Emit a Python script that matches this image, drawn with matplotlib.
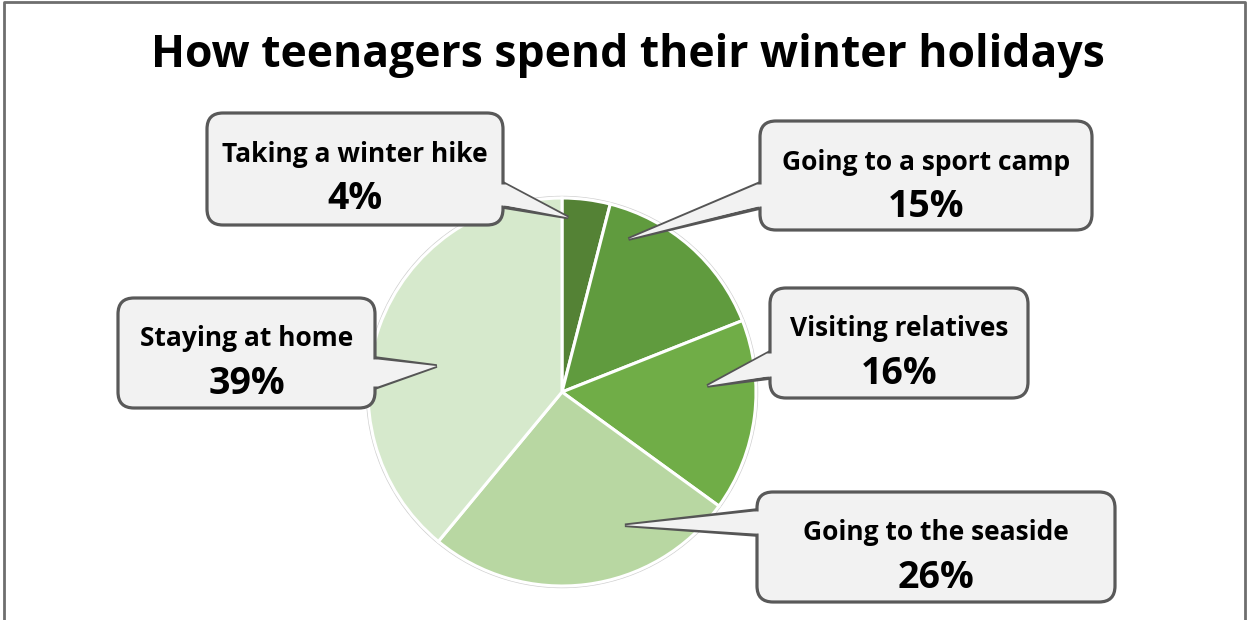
import numpy as np
import matplotlib.pyplot as plt
from matplotlib.patches import FancyBboxPatch, Polygon

plt.rcParams['font.family'] = ['Open Sans', 'DejaVu Sans']

# données
labels = ["Taking a winter hike", "Going to a sport camp", "Visiting relatives",
          "Going to the seaside", "Staying at home"]
values = [4, 15, 16, 26, 39]
colors = ["#548235", "#609b3e", "#70ad47", "#b8d7a2", "#d6e9cc"]

W, H = 1250, 620

# callouts: box (x0, y0, x1, y1) in pixels from top, tip (angle from top clockwise, radius fraction),
# pointer base on box side (side, ya, yb)
boxes = [(207, 113, 503, 225), (760, 121, 1092, 230), (770, 288, 1028, 398),
         (757, 492, 1115, 602), (118, 298, 375, 408)]
tips = [(2.0, 0.90), (23.5, 0.86), (87.6, 0.75), (154.7, 0.76), (281.7, 0.66)]
bases = [("r", 183, 207), ("l", 183, 208), ("l", 352, 378), ("l", 510, 535), ("r", 358, 388)]

cx, cy, R = 562, 392, 194

fig = plt.figure(figsize=(W / 100, H / 100), dpi=100)
ax = fig.add_axes([0, 0, 1, 1])

def Y(y):
    return H - y

wedges, _ = ax.pie(values, colors=colors, startangle=90, counterclock=False,
                   center=(cx, Y(cy)), radius=R, frame=True,
                   wedgeprops=dict(edgecolor='white', linewidth=2.2))
ax.add_patch(plt.Circle((cx, Y(cy)), R + 1.5, fill=False, edgecolor="#d0d0d0", lw=1, zorder=0.5))
ax.set_xlim(0, W)
ax.set_ylim(0, H)
ax.set_aspect('equal')
ax.axis('off')

# cadre
ax.plot([4, 4, 1245, 1245], [0, Y(2), Y(2), 0], color="#6e6e6e", lw=2, zorder=1)

ax.text(628, Y(55), "How teenagers spend their winter holidays", ha='center', va='center',
        fontsize=32, fontweight='bold', color='black')

for lab, v, (x0, y0, x1, y1), (ang, fr), (side, ya, yb) in zip(labels, values, boxes, tips, bases):
    a = np.radians(ang)
    tx = cx + fr * R * np.sin(a)
    ty = cy - fr * R * np.cos(a)
    bx = x1 if side == "r" else x0
    box = FancyBboxPatch((x0, Y(y1)), x1 - x0, y1 - y0,
                         boxstyle="round,pad=0,rounding_size=16",
                         facecolor="#f2f2f2", edgecolor="#595959", lw=2.3, zorder=5)
    ax.add_patch(box)
    ax.add_patch(Polygon([(bx, Y(ya)), (tx, Y(ty)), (bx, Y(yb))], closed=False,
                         facecolor="#f2f2f2", edgecolor="#555555", lw=2.6, zorder=5,
                         joinstyle='miter'))
    # cache le bord de la boîte sous la pointe
    ins = 3 if side == "l" else -3
    ax.add_patch(Polygon([(bx + ins, Y(ya + 1.5)), (bx - ins, Y(ya + 1.5)), (tx, Y(ty)),
                          (bx - ins, Y(yb - 1.5)), (bx + ins, Y(yb - 1.5))],
                         closed=True, facecolor="#f2f2f2", edgecolor='none', zorder=6))
    xm = (x0 + x1) / 2
    ax.text(xm, Y(y0 + 41), lab, ha='center', va='center', fontsize=19,
            fontweight='bold', color='black', zorder=7)
    ax.text(xm, Y(y0 + 86), f"{v}%", ha='center', va='center', fontsize=27,
            fontweight='bold', color='black', zorder=7)

fig.savefig("out.png", dpi=100)
